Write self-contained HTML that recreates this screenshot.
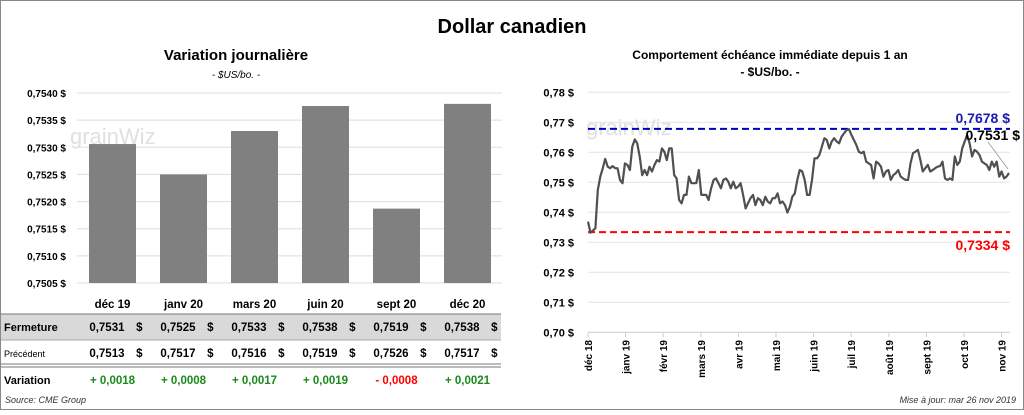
<!DOCTYPE html>
<html><head><meta charset="utf-8"><style>
body{margin:0;width:1024px;height:410px;overflow:hidden;background:#fff;font-family:"Liberation Sans",sans-serif}
svg text{font-family:"Liberation Sans",sans-serif}
</style></head><body>
<svg id="s" width="1024" height="410">
<rect x="0.5" y="0.5" width="1023" height="409" fill="#fff" stroke="#888"/>
<text x="512" y="33" text-anchor="middle" font-size="20" font-weight="bold">Dollar canadien</text>
<text x="236" y="60" text-anchor="middle" font-size="15" font-weight="bold">Variation  journalière</text>
<text x="236" y="78" text-anchor="middle" font-size="10" font-style="italic">- $US/bo. -</text>
<text x="770" y="59" text-anchor="middle" font-size="12" font-weight="bold">Comportement échéance immédiate depuis 1 an</text>
<text x="770" y="76" text-anchor="middle" font-size="12" font-weight="bold">- $US/bo. -</text>
<g id="left"></g>
<g id="right"></g>
<g id="tbl"></g>
<text x="5" y="403" font-size="9" font-style="italic" fill="#333">Source: CME Group</text>
<text x="1016" y="403" text-anchor="end" font-size="9" font-style="italic" fill="#333">Mise à jour: mar 26 nov 2019</text>
</svg>
<script>
const barCats=["déc 19","janv 20","mars 20","juin 20","sept 20","déc 20"];
const barVals=[0.75306,0.7525,0.7533,0.75376,0.75187,0.7538];
const barTicks=[0.7505,0.7510,0.7515,0.7520,0.7525,0.7530,0.7535,0.7540];
const closeVals=["0,7531","0,7525","0,7533","0,7538","0,7519","0,7538"];
const prevVals=["0,7513","0,7517","0,7516","0,7519","0,7526","0,7517"];
const varVals=["+ 0,0018","+ 0,0008","+ 0,0017","+ 0,0019","- 0,0008","+ 0,0021"];
const lineTicks=[0.70,0.71,0.72,0.73,0.74,0.75,0.76,0.77,0.78];
const monthLabels=["déc 18","janv 19","févr 19","mars 19","avr 19","mai 19","juin 19","juil 19","août 19","sept 19","oct 19","nov 19"];
const lineVals=[0.7369,0.7332,0.7339,0.7347,0.7474,0.7519,0.7547,0.7578,0.7552,0.7547,0.7554,0.7547,0.7547,0.7508,0.7497,0.7563,0.7558,0.7541,0.7619,0.7643,0.7630,0.7586,0.7524,0.7541,0.7524,0.7552,0.7536,0.7558,0.7574,0.7569,0.7613,0.7602,0.7574,0.7613,0.7613,0.7524,0.7513,0.7441,0.7430,0.7458,0.7458,0.7519,0.7497,0.7497,0.7497,0.7541,0.7458,0.7458,0.7458,0.7441,0.7480,0.7508,0.7513,0.7497,0.7480,0.7508,0.7513,0.7502,0.7480,0.7502,0.7480,0.7486,0.7497,0.7458,0.7413,0.7430,0.7447,0.7458,0.7424,0.7447,0.7441,0.7424,0.7452,0.7436,0.7430,0.7447,0.7447,0.7463,0.7430,0.7436,0.7424,0.7399,0.7419,0.7452,0.7463,0.7508,0.7541,0.7536,0.7508,0.7458,0.7458,0.7508,0.7580,0.7580,0.7591,0.7619,0.7647,0.7641,0.7613,0.7636,0.7647,0.7636,0.7630,0.7652,0.7663,0.7674,0.7677,0.7658,0.7641,0.7624,0.7602,0.7597,0.7602,0.7569,0.7563,0.7558,0.7513,0.7569,0.7563,0.7552,0.7519,0.7536,0.7541,0.7508,0.7524,0.7530,0.7541,0.7519,0.7513,0.7508,0.7508,0.7563,0.7597,0.7602,0.7608,0.7574,0.7536,0.7547,0.7558,0.7536,0.7541,0.7547,0.7552,0.7554,0.7569,0.7513,0.7508,0.7513,0.7508,0.7586,0.7558,0.7569,0.7613,0.7636,0.7658,0.7630,0.7586,0.7608,0.7602,0.7591,0.7569,0.7563,0.7558,0.7541,0.7569,0.7552,0.7569,0.7519,0.7536,0.7513,0.7519,0.7531];
const hiVal=0.7678, loVal=0.7334, lastVal=0.7531;
const NS="http://www.w3.org/2000/svg";
function mk(p,t,a,txt){const e=document.createElementNS(NS,t);for(const k in a)e.setAttribute(k,a[k]);if(txt!==undefined)e.textContent=txt;p.appendChild(e);return e;}
const fmt4=v=>v.toFixed(4).replace('.',',')+' $';
// left
const L=document.getElementById('left');
const ly=v=>283-(v-0.7505)/0.0035*190;
const lx0=77,band=71;
barTicks.forEach(t=>{
 const g=mk(L,'line',{x1:lx0,x2:502,y1:ly(t),y2:ly(t),stroke:'#ddd'});
 
 
 const tx=mk(L,'text',{x:66,y:ly(t)+4,'text-anchor':'end','font-size':10,'font-weight':'bold'},fmt4(t));
 
 
});
mk(L,'text',{x:70,y:144,'font-size':22,fill:'#e0e0e0'},'grainWiz');
barVals.forEach((v,i)=>{
 const r=mk(L,'rect',{x:lx0+band*i+12,y:ly(v),width:47,height:283-ly(v),fill:'#808080'});
 
 
});
// table
const T=document.getElementById('tbl');
const cx=i=>lx0+band*i+35.5;
mk(T,'rect',{x:1,y:314,width:500,height:26,fill:'#d9d9d9'});
mk(T,'line',{x1:1,x2:501,y1:314,y2:314,stroke:'#777'});
mk(T,'line',{x1:1,x2:501,y1:340,y2:340,stroke:'#aaa'});
mk(T,'line',{x1:1,x2:501,y1:364,y2:364,stroke:'#777'});
mk(T,'line',{x1:1,x2:501,y1:367,y2:367,stroke:'#777'});
mk(T,'text',{x:4,y:331,'font-size':11,'font-weight':'bold'},'Fermeture');
mk(T,'text',{x:4,y:357,'font-size':9},'Précédent');
mk(T,'text',{x:4,y:384,'font-size':11,'font-weight':'bold'},'Variation');
barCats.forEach((c,i)=>{
 const h=mk(T,'text',{x:cx(i),y:308,'text-anchor':'middle','font-size':11.5,'font-weight':'bold'},c);
 
 
 mk(T,'text',{x:cx(i)+12,y:331,'text-anchor':'end','font-size':11.5,'font-weight':'bold'},closeVals[i]);
 mk(T,'text',{x:cx(i)+30,y:331,'text-anchor':'end','font-size':11.5,'font-weight':'bold'},'$');
 mk(T,'text',{x:cx(i)+12,y:357,'text-anchor':'end','font-size':11.5,'font-weight':'bold'},prevVals[i]);
 mk(T,'text',{x:cx(i)+30,y:357,'text-anchor':'end','font-size':11.5,'font-weight':'bold'},'$');
 mk(T,'text',{x:cx(i),y:384,'text-anchor':'middle','font-size':11.5,'font-weight':'bold',fill:varVals[i][0]=='-'?'#f00':'#1a8a1a'},varVals[i]);
});
// right
const R=document.getElementById('right');
const ry=v=>332.3-(v-0.70)/0.08*240;
const rx0=588,rx1=1009;
const rx=i=>rx0+(rx1-rx0)*i/(lineVals.length-1);
lineTicks.forEach(t=>{
 const g=mk(R,'line',{x1:rx0,x2:1010,y1:ry(t),y2:ry(t),stroke:t==0.70?'#ccc':'#e4e4e4'});
 
 
 const tx=mk(R,'text',{x:574,y:ry(t)+4,'text-anchor':'end','font-size':11,'font-weight':'bold'},t.toFixed(2).replace('.',',')+' $');
 
 
});
monthLabels.forEach((m,i)=>{
 const x=rx0+i*37.6;
 mk(R,'line',{x1:x,x2:x,y1:333,y2:337,stroke:'#ccc'});
 const tx=mk(R,'text',{x:0,y:0,'text-anchor':'end','font-size':10,'font-weight':'bold',transform:`translate(${x+4},${340}) rotate(-90)`},m);
 
 
});
mk(R,'text',{x:586,y:135,'font-size':22,fill:'#e0e0e0'},'grainWiz');
const hl=mk(R,'line',{x1:rx0,x2:1010,y1:ry(hiVal),y2:ry(hiVal),stroke:'#0000c0','stroke-width':2,'stroke-dasharray':'7,4'});


const ll=mk(R,'line',{x1:rx0,x2:1010,y1:ry(loVal),y2:ry(loVal),stroke:'#f00','stroke-width':2,'stroke-dasharray':'7,4'});


const p=mk(R,'polyline',{points:lineVals.map((v,i)=>rx(i).toFixed(1)+','+ry(v).toFixed(1)).join(' '),fill:'none',stroke:'#505050','stroke-width':2.2,'stroke-linejoin':'round'});


const t1=mk(R,'text',{x:1010,y:ry(hiVal)-6,'text-anchor':'end','font-size':14,'font-weight':'bold',fill:'#1a1ab4'},fmt4(hiVal));


const t2=mk(R,'text',{x:1010,y:ry(loVal)+18,'text-anchor':'end','font-size':14,'font-weight':'bold',fill:'#f00'},fmt4(loVal));


mk(R,'line',{x1:988,y1:142,x2:1008,y2:ry(lastVal)-4,stroke:'#999','stroke-width':0.8});
const t3=mk(R,'text',{x:1020,y:140,'text-anchor':'end','font-size':14,'font-weight':'bold'},fmt4(lastVal));


</script>
</body></html>
